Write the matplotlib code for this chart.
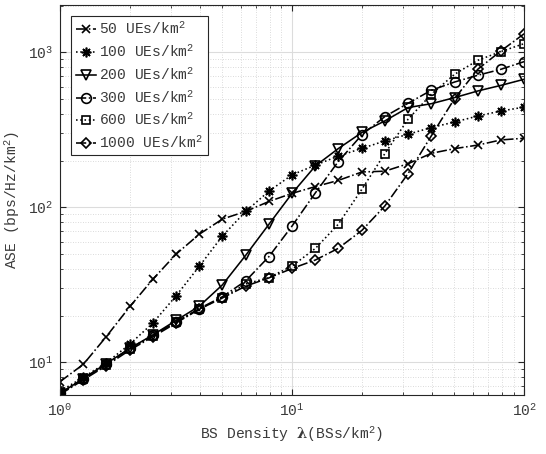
import numpy as np
import matplotlib
matplotlib.use("Agg")
import matplotlib.pyplot as plt
from matplotlib.ticker import LogLocator, NullFormatter

# BS densities (BSs/km^2), 10 points per decade
bs_density = [1, 1.26, 1.58, 2, 2.51, 3.16, 3.98, 5.01, 6.31, 7.94,
              10, 12.6, 15.8, 20, 25.1, 31.6, 39.8, 50.1, 63.1, 79.4, 100]

# ASE (bps/Hz/km^2) for each UE density
ase_50 = [7.5, 9.7, 14.6, 22.9, 34.3, 49.8, 67, 84, 94, 109,
          123, 136, 149, 169, 171, 191, 223, 239, 252, 272, 279]
ase_100 = [6.5, 8.0, 9.9, 13.1, 17.9, 26.8, 41.6, 65.3, 94, 127,
           162, 187, 214, 240, 268, 296, 327, 355, 388, 418, 443]
ase_200 = [6.3, 7.85, 9.8, 12.3, 15.0, 18.6, 23, 31.6, 49, 77.6,
           123, 185, 239, 304, 361, 440, 466, 510, 563, 612, 670]
ase_300 = [6.3, 7.85, 9.7, 12.3, 14.9, 18.2, 22.2, 26.5, 33.5, 48,
           75.8, 124, 197, 294, 385, 469, 569, 643, 711, 777, 871]
ase_600 = [6.3, 7.8, 9.6, 12.2, 14.8, 18.1, 22.1, 26.1, 32, 35.2,
           41.8, 54.3, 77.6, 131, 222, 370, 536, 721, 888, 1011, 1138]
ase_1000 = [6.2, 7.7, 9.5, 12.0, 14.6, 17.9, 22.0, 26.0, 31, 35,
            40.3, 45.7, 54.3, 71, 102, 165, 289, 502, 777, 1021, 1318]

labels = ["50 UEs/km$^2$", "100 UEs/km$^2$", "200 UEs/km$^2$",
          "300 UEs/km$^2$", "600 UEs/km$^2$", "1000 UEs/km$^2$"]

plt.rcParams["font.family"] = ["Liberation Mono", "DejaVu Sans"]
plt.rcParams["mathtext.fontset"] = "custom"
plt.rcParams["mathtext.rm"] = "Liberation Mono"
plt.rcParams["mathtext.it"] = "Liberation Mono"
plt.rcParams["mathtext.bf"] = "DejaVu Serif:bold"
plt.rcParams["font.size"] = 10.5

TXT = "#3a3a3a"

fig = plt.figure(figsize=(5.46, 4.54), dpi=100)
ax = fig.add_axes([0.110, 0.130, 0.850, 0.859])

styles = [
    (ase_50,   "-.", "x",       6),
    (ase_100,  ":",  (8, 2, 0), 7),
    (ase_200,  "-",  "v",       7.5),
    (ase_300,  "-.", "o",       7),
    (ase_600,  ":",  "s",       5.5),
    (ase_1000, "-.", "D",       5.5),
]

for (ys, ls, mk, ms), lab in zip(styles, labels):
    ax.plot(bs_density, ys, linestyle=ls, marker=mk, color="black", lw=1.15,
            ms=ms, mew=1.2, mfc="none", label=lab)

ax.set_xscale("log")
ax.set_yscale("log")
ax.set_xlim(1, 100)
ax.set_ylim(6.15, 2020)

ax.xaxis.set_minor_locator(LogLocator(base=10, subs=np.arange(2, 10)))
ax.yaxis.set_minor_locator(LogLocator(base=10, subs=np.arange(2, 10)))
ax.xaxis.set_minor_formatter(NullFormatter())
ax.yaxis.set_minor_formatter(NullFormatter())

ax.grid(True, which="major", color="#dcdcdc", lw=0.8, ls="-")
ax.grid(True, which="minor", color="#cfcfcf", lw=0.6, ls=(0, (1, 2)))
ax.set_axisbelow(True)

ax.tick_params(which="both", direction="in", top=True, right=True,
               colors="#262626", labelcolor=TXT)
ax.tick_params(which="major", length=4, pad=5)
ax.tick_params(which="minor", length=2.5)
for s in ax.spines.values():
    s.set_color("#262626")
    s.set_linewidth(0.8)

ax.set_xlabel(r"BS Density $\mathbf{\lambda}$(BSs/km$^2$)", color=TXT)
ax.set_ylabel("ASE (bps/Hz/km$^2$)", color=TXT)

leg = ax.legend(loc="upper left", bbox_to_anchor=(0.018, 0.978), fancybox=False,
                edgecolor="#262626", framealpha=1, handlelength=1.4,
                handletextpad=0.2, labelspacing=0.42, borderpad=0.3,
                borderaxespad=0.2)
leg.get_frame().set_linewidth(0.8)
for t in leg.get_texts():
    t.set_color(TXT)

fig.savefig("out.png", dpi=100, facecolor="white")
